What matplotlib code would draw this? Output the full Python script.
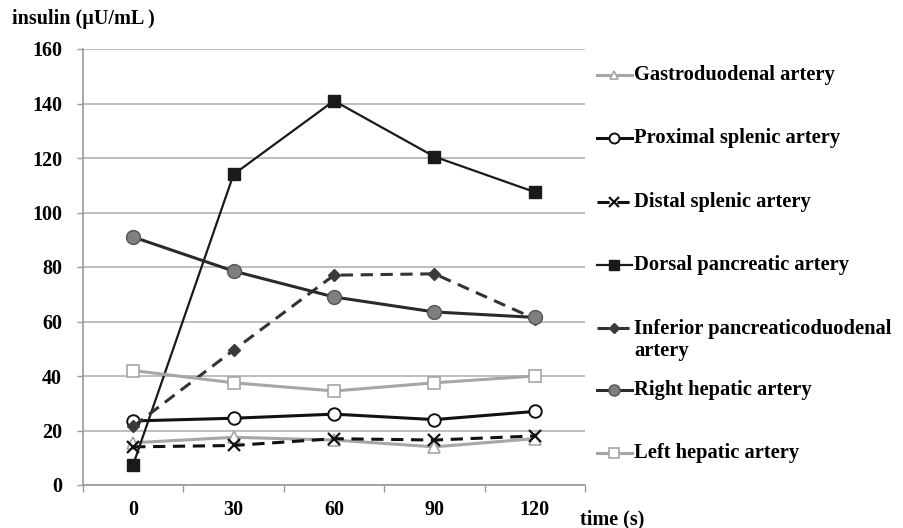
import numpy as np
import matplotlib
matplotlib.use("Agg")
import matplotlib.pyplot as plt
from matplotlib.lines import Line2D

plt.rcParams['font.family'] = ['Liberation Serif', 'DejaVu Serif']
plt.rcParams['font.weight'] = 'bold'

# data
times = ["0", "30", "60", "90", "120"]
gastroduodenal = [15.5, 17.5, 16.5, 14, 17]
proximal_splenic = [23.5, 24.5, 26, 24, 27]
distal_splenic = [14, 14.5, 17, 16.5, 18]
dorsal_pancreatic = [7.5, 114, 141, 120.5, 107.5]
inferior_pancreaticoduodenal = [21.5, 49.5, 77, 77.5, 61]
right_hepatic = [91, 78.5, 69, 63.5, 61.5]
left_hepatic = [42, 37.5, 34.5, 37.5, 40]

yticks = [0, 20, 40, 60, 80, 100, 120, 140, 160]

LG = "#a6a6a6"
series = [
    ("Gastroduodenal artery", gastroduodenal,
     dict(color=LG, ls="-", lw=2.2, marker="^", ms=8, mfc="white", mec=LG, mew=1.2)),
    ("Proximal splenic artery", proximal_splenic,
     dict(color="#111111", ls="-", lw=2.2, marker="o", ms=9, mfc="white", mec="#111111", mew=1.4)),
    ("Distal splenic artery", distal_splenic,
     dict(color="#111111", ls=(0, (4, 2.5)), lw=2.2, marker="x", ms=9, mec="#111111", mew=1.6)),
    ("Dorsal pancreatic artery", dorsal_pancreatic,
     dict(color="#1a1a1a", ls="-", lw=1.6, marker="s", ms=9, mfc="#1a1a1a", mec="#1a1a1a")),
    ("Inferior pancreaticoduodenal\nartery", inferior_pancreaticoduodenal,
     dict(color="#333333", ls=(0, (4, 2.5)), lw=2.2, marker="D", ms=6.5, mfc="#3a3a3a", mec="#3a3a3a")),
    ("Right hepatic artery", right_hepatic,
     dict(color="#2a2a2a", ls="-", lw=2.2, marker="o", ms=10, mfc="#7f7f7f", mec="#555555", mew=1.0)),
    ("Left hepatic artery", left_hepatic,
     dict(color=LG, ls="-", lw=2.2, marker="s", ms=9, mfc="white", mec=LG, mew=1.2)),
]

W, H = 904, 528
fig = plt.figure(figsize=(W / 100, H / 100), dpi=100)
ax = fig.add_axes([83 / W, 43 / H, 502 / W, 436 / H])

x = np.arange(len(times))
for label, vals, st in series:
    ax.plot(x, vals, zorder=3, **st)

ax.set_xlim(-0.5, len(times) - 0.5)
ax.set_ylim(0, 160)
ax.set_yticks(yticks)
ax.set_xticks(x)
ax.set_xticklabels(times)
ax.set_xticks(np.arange(-0.5, len(times)), minor=True)
ax.tick_params(axis="x", which="major", length=0, pad=11, labelsize=14.5)
ax.tick_params(axis="x", which="minor", length=5, color="#999999", width=1)
ax.tick_params(axis="y", length=4, color="#999999", width=1, labelsize=14.5, pad=11)
ax.grid(axis="y", color="#b3b3b3", lw=1.2, zorder=0)
for s in ["top", "right"]:
    ax.spines[s].set_visible(False)
for s in ["left", "bottom"]:
    ax.spines[s].set_color("#999999")
    ax.spines[s].set_linewidth(1.2)

fig.text(12 / W, 1 - 19 / H, "insulin (µU/mL )", fontsize=14.5, ha="left", va="center")
fig.text(580 / W, 1 - 519 / H, "time (s)", fontsize=14.5, ha="left", va="center")

# legend drawn by hand so the two-line label keeps its handle on the first line
rows = [75, 138, 202, 265, 328, 390, 453]
for (label, vals, st), yp in zip(series, rows):
    yf = 1 - yp / H
    fig.add_artist(Line2D([597 / W, 632 / W], [yf, yf], transform=fig.transFigure,
                          color=st["color"], ls=st["ls"], lw=st["lw"]))
    mk = {k: v for k, v in st.items() if k in ("marker", "mfc", "mec", "mew")}
    fig.add_artist(Line2D([614 / W], [yf], transform=fig.transFigure, ls="none",
                          ms=st["ms"] * 0.8, **mk))
    ty = yf if "\n" not in label else 1 - (yp + 12) / H
    fig.text(634 / W, ty, label, fontsize=14.8, ha="left", va="center", linespacing=1.15)

fig.savefig("out.png", dpi=100)
